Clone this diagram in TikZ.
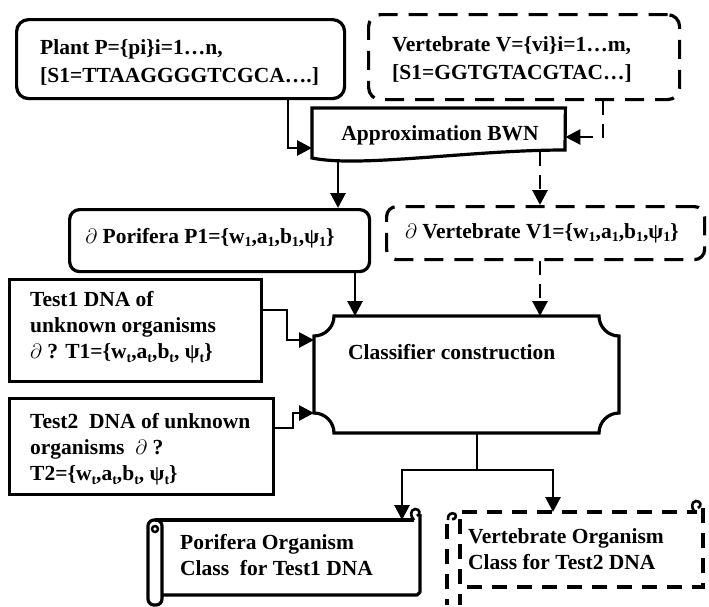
\documentclass[tikz,border=0pt]{standalone}
\usepackage{fontspec}
\setmainfont{Liberation Serif}
\usetikzlibrary{arrows.meta}
\newcommand\sbx[1]{\raisebox{-0.4ex}{\fontsize{14}{14}\selectfont #1}}
\tikzset{
  box/.style={draw, line width=3.2pt},
  dbox/.style={box, dash pattern=on 19pt off 11pt},
  sdbox/.style={box, dash pattern=on 15pt off 10pt},
  conn/.style={line width=2.8pt, -{Triangle[length=15pt,width=15pt]}},
  dconn/.style={conn, dash pattern=on 14pt off 9pt},
  lbl/.style={font=\fontsize{21.5}{26}\selectfont\bfseries, align=left, inner sep=0pt, anchor=west},
  frame/.style={inner sep=0pt, anchor=north west},
}
\begin{document}
\begin{tikzpicture}[x=1pt,y=-1pt]
\useasboundingbox (0,0) rectangle (709,606);

% helper columns / rows
\coordinate (xPa) at (288,0);
\coordinate (xVa) at (603,0);
\coordinate (xAp) at (338,0);
\coordinate (xAv) at (540,0);
\coordinate (xPc) at (355,0);
\coordinate (xT1) at (287,0);
\coordinate (xT2) at (293,0);
\coordinate (xL) at (402,0);
\coordinate (xR) at (553,0);
\coordinate (yPA) at (0,148);
\coordinate (yVA) at (0,137);
\coordinate (yT1a) at (0,310);
\coordinate (yT1b) at (0,340);
\coordinate (yT2a) at (0,428);
\coordinate (yT2b) at (0,413);
\coordinate (split) at (477,470);
\coordinate (wv) at (540,152);

% Plant box
\node[box, rounded corners=12pt, frame, minimum width=328pt, minimum height=79pt] (plant) at (15,18) {};
\node[lbl, font=\fontsize{21.5}{28}\selectfont\bfseries] (plantT) at (40,62) {Plant P=\{pi\}i=1…n,\\ {[}S1=TTAAGGGGTCGCA….]};

% Vertebrate box
\node[dbox, rounded corners=12pt, frame, minimum width=311pt, minimum height=85pt] (vert) at (367,13) {};
\node[lbl, font=\fontsize{21.5}{28}\selectfont\bfseries] (vertT) at (392,59) {Vertebrate V=\{vi\}i=1…m,\\ {[}S1=GGTGTACGTAC…]};

% Approximation BWN (document shape)
\node[frame, minimum width=253pt, minimum height=52pt] (approx) at (312,108) {};
\draw[box, line join=miter] (approx.north west) -- (approx.north east) -- (565,150)
  .. controls (470,150) and (360,168) .. (312,158) -- cycle;
\node[lbl, anchor=base] (approxT) at (440,140) {Approximation BWN};

% Porifera P1
\node[box, rounded corners=10pt, frame, minimum width=300pt, minimum height=62pt] (por) at (68,208) {};
\node[lbl, anchor=base] (porT) at (210,243) {$\partial$ Porifera P1=\{w\sbx{1},a\sbx{1},b\sbx{1},ψ\sbx{1}\}};

% Vertebrate V1
\node[dbox, rounded corners=10pt, frame, minimum width=318pt, minimum height=53pt] (v1) at (385,205) {};
\node[lbl, anchor=base] (v1T) at (542,238) {$\partial$ Vertebrate V1=\{w\sbx{1},a\sbx{1},b\sbx{1},ψ\sbx{1}\}};

% Test1
\node[box, frame, minimum width=252pt, minimum height=102pt] (t1) at (8,278) {};
\node[lbl] (t1T) at (30,327) {Test1 DNA of\\ unknown organisms\\ $\partial$ ? T1=\{w\sbx{t},a\sbx{t},b\sbx{t}, ψ\sbx{t}\}};

% Test2
\node[box, frame, minimum width=264pt, minimum height=96pt] (t2) at (8,397) {};
\node[lbl] (t2T) at (30,449) {Test2\ \ DNA of unknown\\ organisms\ \ $\partial$ ?\\ T2=\{w\sbx{t},a\sbx{t},b\sbx{t}, ψ\sbx{t}\}};

% Classifier construction (plaque)
\node[frame, minimum width=305pt, minimum height=117pt] (cls) at (314,316) {};
\draw[box] (334,316) -- (599,316) .. controls (599,327) and (608,336) .. (619,336)
  -- (619,413) .. controls (608,413) and (599,422) .. (599,433)
  -- (334,433) .. controls (334,422) and (325,413) .. (314,413)
  -- (314,336) .. controls (325,336) and (334,327) .. (334,316) -- cycle;
\node[lbl, anchor=base west] (clsT) at (348,359) {Classifier construction};

% Porifera scroll
\node[frame, minimum width=272pt, minimum height=75pt] (pscroll) at (148,520) {};
\draw[box, line join=round] (155,520) -- (414,520);
\draw[line width=2.6pt] (414,520) .. controls (410,516) and (410,510) .. (415,509) .. controls (420,509) and (421,514) .. (417,516);
\draw[box, line join=round] (420,514) -- (420,592) -- (417,595) -- (162,595);
\draw[box, rounded corners=6pt] (148,520) rectangle (162,605);
\draw[line width=2.4pt] (155,529) circle[radius=3pt];
\node[lbl] (pscrollT) at (180,555) {Porifera Organism\\ Class\ \ for Test1 DNA};

% Vertebrate scroll (dashed)
\node[frame, minimum width=256pt, minimum height=75pt] (vscroll) at (447,512) {};
\draw[sdbox] (462,512) -- (697,512);
\draw[line width=2.6pt] (695,512) .. controls (691,508) and (691,502) .. (696,501) .. controls (701,501) and (702,506) .. (698,508);
\draw[sdbox] (703,508) -- (703,587) -- (462,587);
\draw[line width=2.6pt] (448,520) .. controls (447,514) and (452,512) .. (455,514) .. controls (457,516) and (455,520) .. (452,519);
\draw[sdbox] (447,524) -- (447,605);
\draw[sdbox] (460,519) -- (460,605);
\node[lbl] (vscrollT) at (468,549) {Vertebrate Organism\\ Class for Test2 DNA};

% connectors
\draw[conn] (plant.south -| xPa) |- (approx.west |- yPA);
\draw[dconn] (vert.south -| xVa) |- (approx.east |- yVA);
\draw[conn] (approx.south -| xAp) -- (por.north -| xAp);
\draw[dconn] (wv) -- (v1.north -| wv);
\draw[conn] (por.south -| xPc) -- (cls.north -| xPc);
\draw[dconn] (v1.south -| xAv) -- (cls.north -| xAv);
\draw[conn] (t1.east |- yT1a) -| (xT1 |- yT1b) -- (cls.west |- yT1b);
\draw[conn] (t2.east |- yT2a) -| (xT2 |- yT2b) -- (cls.west |- yT2b);
\draw[line width=1.4pt] (cls.south -| split) -- (split);
\draw[conn] (split) -| (xL |- pscroll.north);
\draw[conn] (split) -| (xR |- vscroll.north);
\end{tikzpicture}
\end{document}
